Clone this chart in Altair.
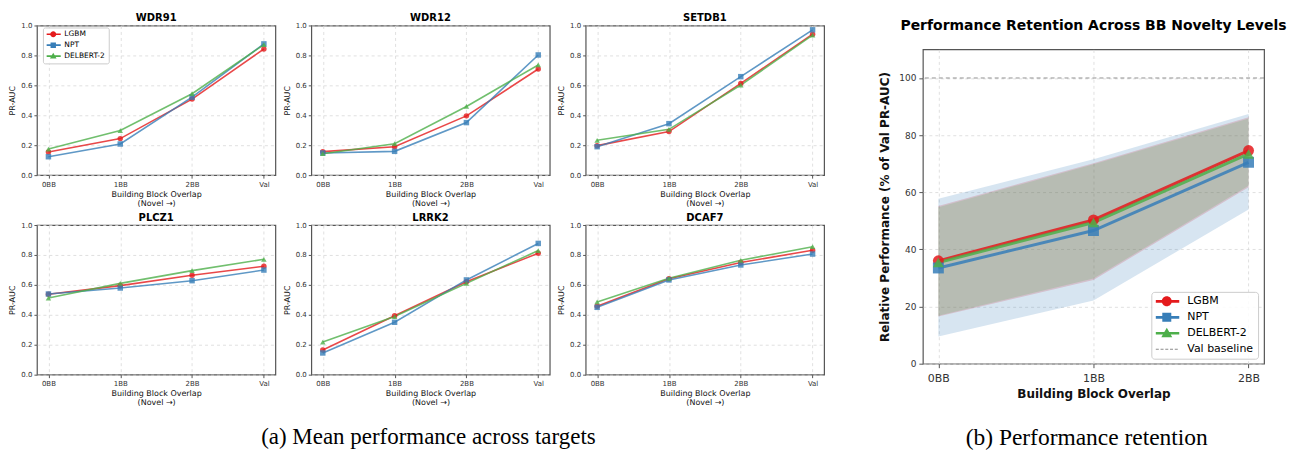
import altair as alt
import pandas as pd

levels = ["0BB", "1BB", "2BB", "Val"]
models = ["LGBM", "NPT", "DELBERT-2"]
model_colors = ["#e41a1c", "#377eb8", "#4daf4a"]
model_shapes = ["circle", "square", "triangle-up"]

wdr91 = {"LGBM": [0.154, 0.244, 0.508, 0.843],
         "NPT": [0.123, 0.208, 0.521, 0.877],
         "DELBERT-2": [0.174, 0.298, 0.544, 0.872]}
wdr12 = {"LGBM": [0.157, 0.190, 0.396, 0.709],
         "NPT": [0.148, 0.159, 0.351, 0.803],
         "DELBERT-2": [0.143, 0.210, 0.459, 0.736]}
setdb1 = {"LGBM": [0.197, 0.291, 0.613, 0.942],
          "NPT": [0.190, 0.344, 0.658, 0.971],
          "DELBERT-2": [0.233, 0.306, 0.602, 0.935]}
plcz1 = {"LGBM": [0.537, 0.595, 0.664, 0.724],
         "NPT": [0.539, 0.579, 0.628, 0.699],
         "DELBERT-2": [0.512, 0.610, 0.695, 0.771]}
lrrk2 = {"LGBM": [0.165, 0.394, 0.621, 0.811],
         "NPT": [0.145, 0.350, 0.633, 0.877],
         "DELBERT-2": [0.218, 0.388, 0.610, 0.829]}
dcaf7 = {"LGBM": [0.457, 0.641, 0.750, 0.831],
         "NPT": [0.450, 0.633, 0.733, 0.806],
         "DELBERT-2": [0.486, 0.644, 0.764, 0.855]}
panels = [("WDR91", wdr91), ("WDR12", wdr12), ("SETDB1", setdb1),
          ("PLCZ1", plcz1), ("LRRK2", lrrk2), ("DCAF7", dcaf7)]

ret_levels = ["0BB", "1BB", "2BB"]
ret_mean = {"LGBM": [36.0, 50.3, 74.6],
            "NPT": [33.5, 46.6, 70.5],
            "DELBERT-2": [35.4, 49.4, 73.4]}
ret_upper = {"LGBM": [55.2, 70.2, 86.3],
             "NPT": [57.7, 71.6, 87.4],
             "DELBERT-2": [54.8, 69.8, 85.8]}
ret_lower = {"LGBM": [16.5, 29.3, 61.8],
             "NPT": [9.5, 22.1, 54.0],
             "DELBERT-2": [16.8, 29.8, 62.3]}

legend_entries = models + ["Val baseline"]
legend_colors = model_colors + ["#8a8a8a"]

FONT = "DejaVu Sans"


def f(v):
    return f"{v:.3f}"


def legend_path(marker, h=0.27, x0=-1.0, x1=3.7, cx=1.2):
    if marker == "dash":
        hh = 0.09
        segs = []
        s = x0
        while s < x1:
            e = min(s + 0.6, x1)
            segs.append(f"M{f(s)},{f(-hh)}L{f(e)},{f(-hh)}L{f(e)},{f(hh)}L{f(s)},{f(hh)}Z")
            s += 0.95
        return "".join(segs)
    p = f"M{f(x0)},{f(-h)}L{f(x1)},{f(-h)}L{f(x1)},{f(h)}L{f(x0)},{f(h)}Z"
    if marker == "circle":
        p += f"M{f(cx-1)},0A1,1 0 1,1 {f(cx+1)},0A1,1 0 1,1 {f(cx-1)},0Z"
    elif marker == "square":
        p += f"M{f(cx-0.9)},-0.9L{f(cx+0.9)},-0.9L{f(cx+0.9)},0.9L{f(cx-0.9)},0.9Z"
    else:
        p += f"M{f(cx)},-1.1L{f(cx+1.1)},0.8L{f(cx-1.1)},0.8Z"
    return p


def spacer(w, h):
    return alt.Chart(pd.DataFrame({"s": [0]})).mark_text(text="", size=1).encode(
        x=alt.value(0), y=alt.value(0)).properties(
        width=w, height=h, view=alt.ViewBackground(stroke="transparent"))


def small_panel(name, vals, show_legend):
    rows = []
    for m in models:
        for lv, v in zip(levels, vals[m]):
            rows.append({"model": m, "level": lv, "value": v})
    df = pd.DataFrame(rows)
    xenc = alt.X("level:O", scale=alt.Scale(type="point", domain=levels, padding=0.16),
                 axis=alt.Axis(title=["Building Block Overlap", "(Novel →)"], labelAngle=0,
                               labelFontSize=7, titleFontSize=8, titleFontWeight="normal",
                               titlePadding=3, titleLineHeight=9, tickSize=3, labelPadding=2,
                               grid=True))
    yenc = alt.Y("value:Q", scale=alt.Scale(domain=[0, 1], nice=False),
                 axis=alt.Axis(title="PR-AUC", values=[0, 0.2, 0.4, 0.6, 0.8, 1.0], format=".1f",
                               labelFontSize=7, titleFontSize=8, titleFontWeight="normal",
                               titlePadding=4, tickSize=3, labelPadding=2, grid=True))
    col = alt.Color("model:N", scale=alt.Scale(domain=models, range=model_colors), legend=None)
    shp = alt.Shape("model:N", scale=alt.Scale(domain=models, range=model_shapes), legend=None)
    base = alt.Chart(df)
    lines = base.mark_line(strokeWidth=1.6, opacity=0.8).encode(x=xenc, y=yenc, color=col)
    pts = base.mark_point(filled=True, size=30, opacity=0.8).encode(
        x=xenc, y=yenc, color=col, shape=shp)
    layers = [lines, pts]
    if show_legend:
        ldf = pd.DataFrame({"entry": models, "level": ["0BB"] * 3, "value": [0.5] * 3})
        leg = alt.Legend(title=None, orient="none", legendX=6, legendY=2,
                         labelFont=FONT, labelFontSize=7.5, symbolSize=36, symbolOpacity=1,
                         symbolStrokeWidth=0, labelOffset=11, rowPadding=2, padding=3,
                         fillColor="rgba(255,255,255,0.85)", strokeColor="#cccccc",
                         cornerRadius=2)
        legl = alt.Chart(ldf).mark_point(filled=True, opacity=0, size=36).encode(
            x=xenc, y=yenc,
            color=alt.Color("entry:N", scale=alt.Scale(domain=models, range=model_colors), legend=leg),
            shape=alt.Shape("entry:N", scale=alt.Scale(domain=models,
                            range=[legend_path(s) for s in model_shapes]), legend=leg))
        layers.append(legl)
    return alt.layer(*layers).resolve_scale(color="independent", shape="independent").properties(
        width=239, height=150,
        title=alt.TitleParams(name, fontSize=10, fontWeight="bold", offset=-2, frame="group",
                              anchor="middle", font=FONT))


row1 = alt.hconcat(*[small_panel(n, v, i == 0) for i, (n, v) in enumerate(panels[:3])],
                   spacing=6).resolve_scale(color="independent", shape="independent")
row2 = alt.hconcat(*[small_panel(n, v, False) for n, v in panels[3:]],
                   spacing=6).resolve_scale(color="independent", shape="independent")
grid = alt.vconcat(row1, row2, spacing=4).resolve_scale(color="independent", shape="independent")
left = alt.vconcat(spacer(10, 1), grid, spacing=0,
                   title=alt.TitleParams("(a) Mean performance across targets", orient="bottom",
                                         font="Liberation Serif", fontSize=23, fontWeight="normal",
                                         offset=19, anchor="middle", dx=12)).resolve_scale(
    color="independent", shape="independent")

# right panel
rrows = []
for m in models:
    for i, lv in enumerate(ret_levels):
        rrows.append({"model": m, "level": lv, "mean": ret_mean[m][i],
                      "lower": ret_lower[m][i], "upper": ret_upper[m][i]})
rdf = pd.DataFrame(rrows)

rx = alt.X("level:O", scale=alt.Scale(type="point", domain=ret_levels, padding=0.1),
           axis=alt.Axis(title="Building Block Overlap", labelAngle=0, labelFontSize=11,
                         titleFontSize=12, titleFontWeight="bold", tickSize=4, labelPadding=5,
                         titlePadding=5, grid=True))
ry_scale = alt.Scale(domain=[0, 110], nice=False)
ry_axis = alt.Axis(title="Relative Performance (% of Val PR-AUC)",
                   values=[0, 20, 40, 60, 80, 100], labelFontSize=9, titleFontSize=12,
                   titleFontWeight="bold", tickSize=4, labelPadding=3, titlePadding=7, grid=True)
rcol = alt.Color("model:N", scale=alt.Scale(domain=models, range=model_colors), legend=None)
rshp = alt.Shape("model:N", scale=alt.Scale(domain=models, range=model_shapes), legend=None)
rbase = alt.Chart(rdf)
bands = rbase.mark_area(opacity=0.2).encode(
    x=rx, y=alt.Y("lower:Q", scale=ry_scale, axis=ry_axis), y2="upper:Q", color=rcol)
baseline = alt.Chart(pd.DataFrame({"v": [100]})).mark_rule(
    color="#777777", strokeDash=[4, 3], strokeWidth=1, opacity=0.8).encode(
    y=alt.Y("v:Q", scale=ry_scale, axis=ry_axis))
rlines = rbase.mark_line(strokeWidth=3, opacity=0.85).encode(
    x=rx, y=alt.Y("mean:Q", scale=ry_scale, axis=ry_axis), color=rcol)
rpts = rbase.mark_point(filled=True, size=120, opacity=0.85).encode(
    x=rx, y=alt.Y("mean:Q", scale=ry_scale, axis=ry_axis), color=rcol, shape=rshp)
rleg = alt.Legend(title=None, orient="none", legendX=229, legendY=243,
                  labelFont=FONT, labelFontSize=11, symbolSize=100, symbolOpacity=1,
                  symbolStrokeWidth=0, labelOffset=21, rowPadding=4, padding=4,
                  fillColor="rgba(255,255,255,0.85)", strokeColor="#cccccc", cornerRadius=3)
rldf = pd.DataFrame({"entry": legend_entries, "level": ["0BB"] * 4, "v": [50] * 4})
rlegl = alt.Chart(rldf).mark_point(filled=True, opacity=0, size=100).encode(
    x=rx, y=alt.Y("v:Q", scale=ry_scale, axis=ry_axis),
    color=alt.Color("entry:N", scale=alt.Scale(domain=legend_entries, range=legend_colors),
                    legend=rleg),
    shape=alt.Shape("entry:N", scale=alt.Scale(domain=legend_entries,
                    range=[legend_path(s) for s in model_shapes] + [legend_path("dash")]),
                    legend=rleg))
right_chart = alt.layer(bands, baseline, rlines, rpts, rlegl).resolve_scale(
    color="independent", shape="independent").properties(
    width=342, height=315,
    title=alt.TitleParams("Performance Retention Across BB Novelty Levels", fontSize=14,
                          fontWeight="bold", offset=16, frame="group",
                          anchor="middle", font=FONT))
right = alt.vconcat(spacer(342, 7), right_chart, spacing=0,
                    title=alt.TitleParams("(b) Performance retention", orient="bottom",
                                          font="Liberation Serif", fontSize=23.5,
                                          fontWeight="normal", offset=26, anchor="middle",
                                          dx=4)).resolve_scale(color="independent",
                                                               shape="independent")

chart = alt.hconcat(left, right, spacing=53).resolve_scale(
    color="independent", shape="independent").properties(padding=0).configure_view(
    stroke="#555555", strokeWidth=1.2).configure_axis(
    domain=False, tickColor="#555555", labelColor="#333333", titleColor="#111111",
    labelFont=FONT, titleFont=FONT, gridColor="#d8d8d8", gridDash=[3, 3], gridWidth=0.8
).configure_title(color="black")

chart.save("out.html", embed_options={"renderer": "svg", "actions": False})
